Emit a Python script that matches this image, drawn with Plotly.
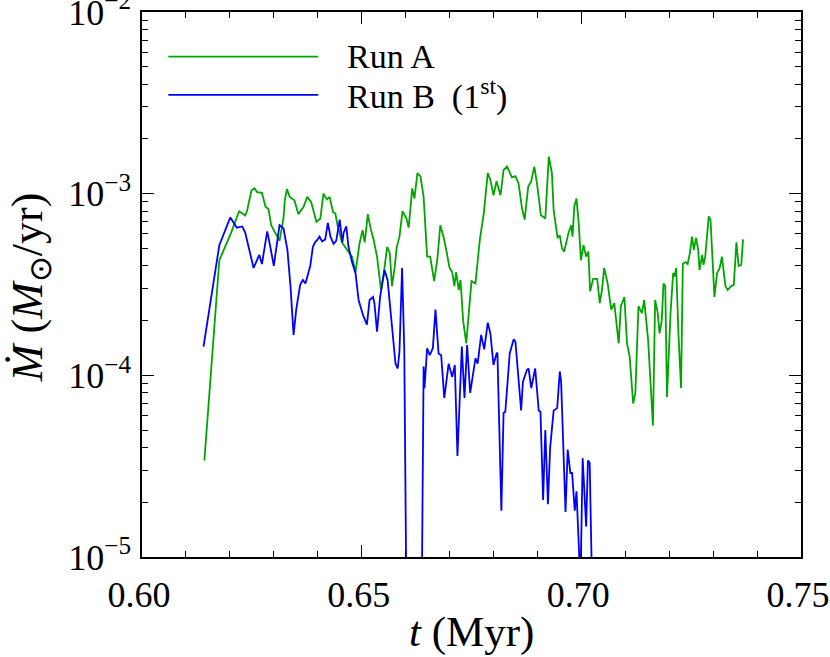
import plotly.graph_objects as go

# Run A accretion rate
t_a = [0.6142, 0.6176, 0.6203, 0.6221, 0.6235, 0.6239, 0.6249, 0.6256, 0.6262, 0.6273,
       0.6281, 0.6288, 0.6294, 0.6300, 0.6313, 0.6322, 0.6325, 0.6330, 0.6336, 0.6347,
       0.6356, 0.6368, 0.6376, 0.6385, 0.6397, 0.6406, 0.6413, 0.6421, 0.6427, 0.6435,
       0.6440, 0.6445, 0.6455, 0.6467, 0.6478, 0.6486, 0.6495, 0.6502, 0.6507, 0.6514,
       0.6520, 0.6527, 0.6535, 0.6544, 0.6550, 0.6558, 0.6564, 0.6569, 0.6575, 0.6580,
       0.6586, 0.6593, 0.6602, 0.6607, 0.6615, 0.6620, 0.6627, 0.6634, 0.6641, 0.6649,
       0.6656, 0.6665, 0.6672, 0.6679, 0.6687, 0.6694, 0.6700, 0.6706, 0.6711, 0.6715,
       0.6721, 0.6725, 0.6731, 0.6738, 0.6750, 0.6759, 0.6769, 0.6778, 0.6787, 0.6793,
       0.6800, 0.6807, 0.6816, 0.6823, 0.6831, 0.6842, 0.6850, 0.6857, 0.6865, 0.6871,
       0.6879, 0.6886, 0.6893, 0.6899, 0.6908, 0.6918, 0.6926, 0.6933, 0.6937, 0.6946,
       0.6951, 0.6956, 0.6961, 0.6971, 0.6977, 0.6980, 0.6984, 0.6989, 0.6994, 0.6999,
       0.7005, 0.7011, 0.7016, 0.7020, 0.7027, 0.7036, 0.7042, 0.7047, 0.7052, 0.7060,
       0.7068, 0.7075, 0.7083, 0.7085, 0.7090, 0.7098, 0.7104, 0.7110, 0.7118, 0.7123,
       0.7130, 0.7138, 0.7143, 0.7148, 0.7152, 0.7163, 0.7168, 0.7174, 0.7178, 0.7183,
       0.7187, 0.7191, 0.7195, 0.7203, 0.7209, 0.7212, 0.7216, 0.7221, 0.7227, 0.7231,
       0.7237, 0.7242, 0.7247, 0.7252, 0.7256, 0.7261, 0.7266, 0.7269, 0.7275, 0.7278,
       0.7282, 0.7290, 0.7294, 0.7303, 0.7309, 0.7315, 0.7320, 0.7328, 0.7333, 0.7341,
       0.7347, 0.7353, 0.7358, 0.7364, 0.7368]
mdot_a = [3.4e-5, 4.3e-4, 6.1e-4, 8.0e-4, 7.6e-4, 8.0e-4, 1.04e-3, 1.07e-3, 1.02e-3, 1.01e-3,
          8.5e-4, 8.2e-4, 6.7e-4, 6.3e-4, 5.5e-4, 7.3e-4, 9.2e-4, 1.06e-3, 9.6e-4, 9.2e-4,
          7.7e-4, 8.5e-4, 9.6e-4, 9.0e-4, 7.0e-4, 7.3e-4, 1.0e-3, 9.3e-4, 9.6e-4, 7.9e-4,
          7.8e-4, 6.7e-4, 5.4e-4, 4.9e-4, 4.5e-4, 3.7e-4, 5.3e-4, 6.3e-4, 5.4e-4, 7.7e-4,
          6.5e-4, 5.6e-4, 4.5e-4, 2.95e-4, 3.6e-4, 5.1e-4, 4.7e-4, 3.1e-4, 3.9e-4, 5.1e-4,
          5.8e-4, 8.0e-4, 7.3e-4, 6.5e-4, 1.07e-3, 9.4e-4, 1.30e-3, 1.24e-3, 9.6e-4, 4.5e-4,
          4.5e-4, 3.3e-4, 4.3e-4, 6.7e-4, 5.7e-4, 4.7e-4, 3.9e-4, 3.7e-4, 3.1e-4, 3.7e-4,
          2.95e-4, 3.35e-4, 2.0e-4, 1.5e-4, 3.3e-4, 3.2e-4, 5.6e-4, 7.8e-4, 1.30e-3, 1.19e-3,
          9.8e-4, 1.17e-3, 9.8e-4, 1.35e-3, 1.41e-3, 1.23e-3, 1.25e-3, 1.14e-3, 8.3e-4, 7.2e-4,
          1.09e-3, 1.17e-3, 1.41e-3, 1.14e-3, 7.6e-4, 7.3e-4, 1.60e-3, 1.30e-3, 8.1e-4, 5.7e-4,
          5.9e-4, 5.0e-4, 4.8e-4, 6.1e-4, 6.7e-4, 5.8e-4, 8.5e-4, 9.4e-4, 6.9e-4, 4.3e-4,
          5.2e-4, 4.5e-4, 4.8e-4, 2.9e-4, 3.4e-4, 3.4e-4, 2.5e-4, 2.95e-4, 3.9e-4, 3.2e-4,
          2.3e-4, 2.5e-4, 1.7e-4, 1.5e-4, 2.4e-4, 2.7e-4, 1.5e-4, 1.27e-4, 7.0e-5, 8.0e-5,
          2.4e-4, 2.2e-4, 2.6e-4, 1.85e-4, 1.57e-4, 5.3e-5, 2.6e-4, 2.2e-4, 1.7e-4, 2.0e-4,
          3.2e-4, 3.1e-4, 7.6e-5, 2.2e-4, 3.65e-4, 3.5e-4, 3.9e-4, 1.7e-4, 8.5e-5, 4.1e-4,
          4.2e-4, 4.1e-4, 4.7e-4, 5.8e-4, 4.9e-4, 5.7e-4, 4.9e-4, 3.8e-4, 4.6e-4, 4.05e-4,
          4.5e-4, 7.5e-4, 7.2e-4, 2.7e-4, 3.65e-4, 3.9e-4, 4.5e-4, 3.1e-4, 2.95e-4, 3.1e-4,
          3.15e-4, 5.4e-4, 4.0e-4, 4.05e-4, 5.6e-4]

# Run B (1st) accretion rate
t_b = [0.6140, 0.6176, 0.6201, 0.6216, 0.6228, 0.6235, 0.6254, 0.6267, 0.6273, 0.6285,
       0.6292, 0.6300, 0.6313, 0.6322, 0.6331, 0.6338, 0.6345, 0.6351, 0.6360, 0.6366,
       0.6372, 0.6383, 0.6389, 0.6394, 0.6400, 0.6404, 0.6410, 0.6417, 0.6423, 0.6429,
       0.6436, 0.6442, 0.6450, 0.6456, 0.6459, 0.6465, 0.6470, 0.6478, 0.6486, 0.6493,
       0.6503, 0.6512, 0.6518, 0.6526, 0.6529, 0.6535, 0.6542, 0.6552, 0.6559, 0.6573,
       0.6577, 0.6582, 0.6586, 0.6592, 0.6597, 0.6608, 0.6631, 0.6641, 0.6643, 0.6649,
       0.6655, 0.6662, 0.6668, 0.6675, 0.6681, 0.6688, 0.6698, 0.6706, 0.6712, 0.6718,
       0.6728, 0.6734, 0.6740, 0.6747, 0.6759, 0.6764, 0.6772, 0.6779, 0.6787, 0.6793,
       0.6800, 0.6807, 0.6809, 0.6818, 0.6823, 0.6827, 0.6837, 0.6846, 0.6850, 0.6863,
       0.6867, 0.6876, 0.6880, 0.6886, 0.6890, 0.6895, 0.6903, 0.6907, 0.6913, 0.6918,
       0.6924, 0.6929, 0.6937, 0.6945, 0.6951, 0.6954, 0.6964, 0.6969, 0.6975, 0.6979,
       0.6985, 0.6989, 0.6998, 0.7003, 0.7011, 0.7015, 0.7019, 0.7025]
mdot_b = [1.44e-4, 5.2e-4, 7.4e-4, 6.5e-4, 6.6e-4, 6.1e-4, 3.9e-4, 4.6e-4, 4.1e-4, 6.2e-4,
          5.1e-4, 4.0e-4, 6.7e-4, 6.45e-4, 4.9e-4, 3.1e-4, 1.67e-4, 2.3e-4, 3.15e-4, 3.35e-4,
          3.2e-4, 4.0e-4, 5.1e-4, 5.4e-4, 5.6e-4, 5.8e-4, 5.45e-4, 5.6e-4, 6.9e-4, 5.8e-4,
          5.3e-4, 5.5e-4, 7.2e-4, 5.4e-4, 6.1e-4, 6.6e-4, 5.1e-4, 4.2e-4, 3.65e-4, 2.6e-4,
          2.15e-4, 1.9e-4, 2.6e-4, 2.7e-4, 2.5e-4, 1.74e-4, 2.7e-4, 3.8e-4, 3.35e-4, 1.57e-4,
          1.16e-4, 1.09e-4, 1.35e-4, 3.9e-4, 1.38e-4, 1e-7, 1e-7, 1.12e-4, 8.5e-5, 1.41e-4,
          1.29e-4, 1.41e-4, 2.3e-4, 1.32e-4, 1.29e-4, 7.5e-5, 1.16e-4, 9.8e-5, 1.14e-4, 3.6e-5,
          1.44e-4, 7.5e-5, 1.47e-4, 8.0e-5, 1.24e-4, 1.16e-4, 1.67e-4, 1.39e-4, 1.95e-4, 1.7e-4,
          1.14e-4, 1.32e-4, 1.33e-4, 1.8e-5, 6.2e-5, 6.3e-5, 1.32e-4, 1.58e-4, 1.53e-4, 6.4e-5,
          9.2e-5, 1.07e-4, 1.09e-4, 8.5e-5, 9.4e-5, 1.09e-4, 6.4e-5, 6.3e-5, 2.06e-5, 5.0e-5,
          1.95e-5, 4.0e-5, 6.4e-5, 6.6e-5, 1.05e-4, 9.2e-5, 1.77e-5, 3.9e-5, 2.9e-5, 2.9e-5,
          1.8e-5, 2.3e-5, 7.0e-6, 3.5e-5, 1.47e-5, 3.4e-5, 3.3e-5, 5.8e-6]

x_ticks = [0.60, 0.65, 0.70, 0.75]
x_ticktext = ["0.60", "0.65", "0.70", "0.75"]
y_ticks = [1e-5, 1e-4, 1e-3, 1e-2]
y_ticktext = ["10<sup>\u22125</sup>", "10<sup>\u22124</sup>", "10<sup>\u22123</sup>", "10<sup>\u22122</sup>"]

GREEN = "#00a600"
BLUE = "#0000ff"
FONT = "Liberation Serif"

fig = go.Figure()
fig.add_trace(go.Scatter(x=t_a, y=mdot_a, mode="lines", name="Run A",
                         line=dict(color=GREEN, width=1.8)))
fig.add_trace(go.Scatter(x=t_b, y=mdot_b, mode="lines", name="Run B (1st)",
                         line=dict(color=BLUE, width=1.8)))

axis_common = dict(
    showline=True, linecolor="black", linewidth=1.5, mirror="allticks",
    ticks="inside", ticklen=12, tickwidth=1.2, tickcolor="black",
    showgrid=False, zeroline=False, automargin=False,
    ticklabeloverflow="allow",
    tickfont=dict(family=FONT, size=36, color="black"),
)

fig.update_xaxes(range=[0.60, 0.75], tickvals=x_ticks, ticktext=x_ticktext,
                 minor=dict(dtick=0.01, ticks="inside", ticklen=6, tickcolor="black", tickwidth=1),
                 ticklabelstandoff=5, ticklabelshift=-3, **axis_common)
fig.update_yaxes(type="log", range=[-5, -2], tickvals=y_ticks, ticktext=y_ticktext,
                 minor=dict(dtick="D1", ticks="inside", ticklen=6, tickcolor="black", tickwidth=1),
                 ticklabelstandoff=2, **axis_common)

# legend drawn by hand so the sample lines are long, as in the original
legend_items = [("Run A", GREEN, 0.918), ("Run B&nbsp;&nbsp;(1<sup>st</sup>)", BLUE, 0.848)]
for label, color, yy in legend_items:
    fig.add_shape(type="line", xref="paper", yref="paper", x0=0.040, x1=0.2675, y0=yy, y1=yy,
                  line=dict(color=color, width=1.8))
    fig.add_annotation(text=label, xref="paper", yref="paper", x=0.308, y=yy,
                       xanchor="left", yanchor="middle", showarrow=False,
                       font=dict(family=FONT, size=34, color="black"))

fig.add_annotation(text="<i>t</i> (Myr)", xref="paper", yref="paper", x=0.5, y=-0.138,
                   xanchor="center", yanchor="middle", showarrow=False,
                   font=dict(family=FONT, size=43, color="black"))
fig.add_annotation(text="<i>\u1e40</i> (<i>M</i><sub>\u2299</sub>/yr)", xref="paper", yref="paper",
                   x=-0.17, y=0.495, textangle=-90, xanchor="center", yanchor="middle",
                   showarrow=False, font=dict(family=FONT, size=44, color="black"))

fig.update_layout(
    width=830, height=657,
    margin=dict(l=142, r=29, t=12, b=100),
    paper_bgcolor="white", plot_bgcolor="white",
    showlegend=False,
    font=dict(family=FONT, color="black"),
)

# page body margin would push the figure 8px off the window corner
fig.write_html("out.html", config={"displayModeBar": False},
               post_script="document.body.style.margin='0';")
